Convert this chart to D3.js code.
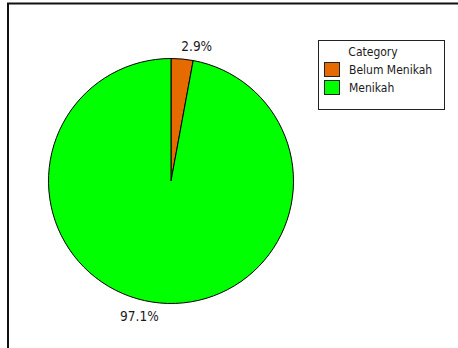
<!DOCTYPE html>
<html>
<head>
<meta charset="utf-8">
<script src="https://cdn.jsdelivr.net/npm/d3@7"></script>
<style>
  html, body { margin: 0; padding: 0; background: #fff; }
  svg { display: block; }
  text { font-family: "DejaVu Sans Condensed", "DejaVu Sans", sans-serif; font-size: 12px; fill: #1a1a1a; }
  text.pct { font-size: 13.5px; }
</style>
</head>
<body>
<script>
// Marital status breakdown
const categories = ["Belum Menikah", "Menikah"];
const percentages = [2.9, 97.1];
const colors = ["#e56a00", "#00ff00"];
const legendTitle = "Category";

const W = 458, H = 348;
const cx = 171, cy = 181, r = 122.5;

const svg = d3.select("body").append("svg").attr("width", W).attr("height", H);

// outer frame (left and top edges visible)
svg.append("rect")
  .attr("x", 8).attr("y", 3.5)
  .attr("width", W + 20).attr("height", H + 20)
  .attr("fill", "none").attr("stroke", "#111").attr("stroke-width", 2);

const data = categories.map((c, i) => ({ cat: c, value: percentages[i], color: colors[i] }));

const pie = d3.pie().value(d => d.value).sort(null);
const arc = d3.arc().innerRadius(0).outerRadius(r);
const arcs = pie(data);

const g = svg.append("g").attr("transform", `translate(${cx},${cy})`);

g.selectAll("path")
  .data(arcs)
  .join("path")
  .attr("d", arc)
  .attr("fill", d => d.data.color)
  .attr("stroke", "#000")
  .attr("stroke-width", 1);

// percentage labels just outside each slice
const labelR = r + 13;
g.selectAll("text.pct")
  .data(arcs)
  .join("text")
  .attr("class", "pct")
  .each(function (d) {
    const a = (d.startAngle + d.endAngle) / 2;
    const x = labelR * Math.sin(a);
    const y = -labelR * Math.cos(a);
    d3.select(this)
      .attr("x", x >= 0 ? x - 2 : x)
      .attr("y", y)
      .attr("dy", "0.35em")
      .attr("text-anchor", x >= 0 ? "start" : "end");
  })
  .text(d => d3.format(".1f")(d.data.value) + "%");

// legend
const lg = svg.append("g").attr("transform", "translate(318,40)");
lg.append("rect")
  .attr("x", 0.5).attr("y", 0.5)
  .attr("width", 126).attr("height", 69)
  .attr("fill", "#fff").attr("stroke", "#222").attr("stroke-width", 1);
lg.append("text")
  .attr("x", 55).attr("y", 16)
  .attr("text-anchor", "middle")
  .text(legendTitle);
const rows = lg.selectAll("g.row")
  .data(data)
  .join("g")
  .attr("class", "row")
  .attr("transform", (d, i) => `translate(6,${22 + i * 18})`);
rows.append("rect")
  .attr("x", 0.5).attr("y", 0.5)
  .attr("width", 15).attr("height", 14)
  .attr("fill", d => d.color)
  .attr("stroke", "#222");
rows.append("text")
  .attr("x", 25).attr("y", 12)
  .text(d => d.cat);
</script>
</body>
</html>
